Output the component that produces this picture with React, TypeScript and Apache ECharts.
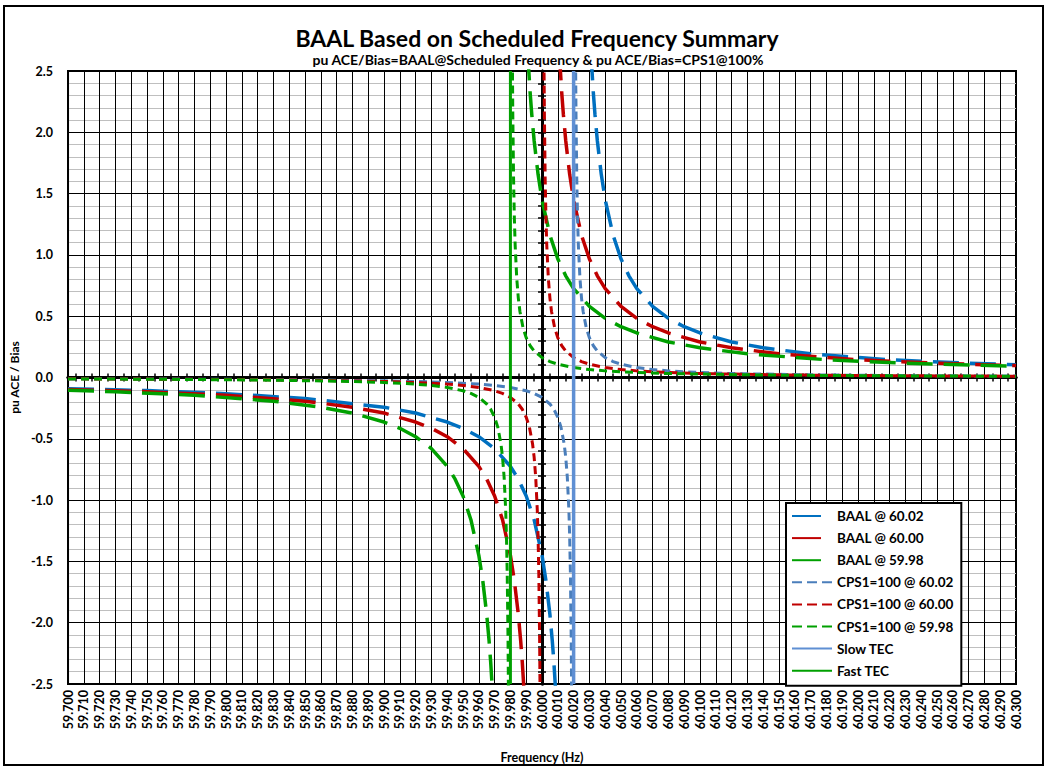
import React, { useEffect, useRef } from 'react';
import * as echarts from 'echarts';

const FONT = 'Lato, "Open Sans", sans-serif';

// Axis ranges
const xMin = 59.7;
const xMax = 60.3;
const yMin = -2.5;
const yMax = 2.5;

// Series names (legend order)
const seriesNames = [
  'BAAL @ 60.02',
  'BAAL @ 60.00',
  'BAAL @ 59.98',
  'CPS1=100 @ 60.02',
  'CPS1=100 @ 60.00',
  'CPS1=100 @ 59.98',
  'Slow TEC',
  'Fast TEC',
];

type Pt = [number, number | null];

// BAAL @ 60.02 (frequency Hz, pu ACE/Bias)
const baal6002: Pt[] = [
  [59.70, -0.091], [59.75, -0.107], [59.80, -0.132], [59.85, -0.171], [59.90, -0.242],
  [59.92, -0.29], [59.94, -0.363], [59.95, -0.414], [59.96, -0.483], [59.97, -0.58],
  [59.98, -0.725], [59.985, -0.829], [59.99, -0.967], [59.995, -1.16], [60.00, -1.45],
  [60.0025, -1.657], [60.005, -1.933], [60.0065, -2.148], [60.0075, -2.32], [60.009, -2.636],
  [60.02, null],
  [60.031, 2.636], [60.0325, 2.32], [60.0335, 2.148], [60.035, 1.933], [60.0375, 1.657],
  [60.04, 1.45], [60.045, 1.16], [60.05, 0.967], [60.055, 0.829], [60.06, 0.725],
  [60.07, 0.58], [60.08, 0.483], [60.09, 0.414], [60.10, 0.363], [60.12, 0.29],
  [60.14, 0.242], [60.17, 0.193], [60.22, 0.145], [60.27, 0.116], [60.30, 0.104],
];

// BAAL @ 60.00
const baal6000: Pt[] = [
  [59.70, -0.097], [59.75, -0.116], [59.80, -0.145], [59.85, -0.193], [59.88, -0.242],
  [59.90, -0.29], [59.92, -0.363], [59.93, -0.414], [59.94, -0.483], [59.95, -0.58],
  [59.96, -0.725], [59.965, -0.829], [59.97, -0.967], [59.975, -1.16], [59.98, -1.45],
  [59.9825, -1.657], [59.985, -1.933], [59.9865, -2.148], [59.9875, -2.32], [59.989, -2.636],
  [60.00, null],
  [60.011, 2.636], [60.0125, 2.32], [60.0135, 2.148], [60.015, 1.933], [60.0175, 1.657],
  [60.02, 1.45], [60.025, 1.16], [60.03, 0.967], [60.035, 0.829], [60.04, 0.725],
  [60.05, 0.58], [60.06, 0.483], [60.07, 0.414], [60.08, 0.363], [60.10, 0.29],
  [60.12, 0.242], [60.15, 0.193], [60.20, 0.145], [60.25, 0.116], [60.30, 0.097],
];

// BAAL @ 59.98
const baal5998: Pt[] = [
  [59.70, -0.104], [59.73, -0.116], [59.78, -0.145], [59.83, -0.193], [59.86, -0.242],
  [59.88, -0.29], [59.90, -0.363], [59.91, -0.414], [59.92, -0.483], [59.93, -0.58],
  [59.94, -0.725], [59.945, -0.829], [59.95, -0.967], [59.955, -1.16], [59.96, -1.45],
  [59.9625, -1.657], [59.965, -1.933], [59.9665, -2.148], [59.9675, -2.32], [59.969, -2.636],
  [59.98, null],
  [59.991, 2.636], [59.9925, 2.32], [59.9935, 2.148], [59.995, 1.933], [59.9975, 1.657],
  [60.00, 1.45], [60.005, 1.16], [60.01, 0.967], [60.015, 0.829], [60.02, 0.725],
  [60.03, 0.58], [60.04, 0.483], [60.05, 0.414], [60.06, 0.363], [60.08, 0.29],
  [60.10, 0.242], [60.13, 0.193], [60.18, 0.145], [60.23, 0.116], [60.30, 0.091],
];

// CPS1=100 @ 60.02
const cps6002: Pt[] = [
  [59.70, -0.0101], [59.75, -0.012], [59.80, -0.0147], [59.85, -0.0191], [59.90, -0.027],
  [59.92, -0.0324], [59.94, -0.0405], [59.96, -0.054], [59.97, -0.0648], [59.98, -0.081],
  [59.99, -0.108], [59.995, -0.13], [60.00, -0.162], [60.005, -0.216], [60.0075, -0.259],
  [60.01, -0.324], [60.012, -0.405], [60.014, -0.54], [60.015, -0.648], [60.016, -0.81],
  [60.017, -1.08], [60.0175, -1.296], [60.018, -1.62], [60.0185, -2.16], [60.0187, -2.492],
  [60.0188, -2.70],
  [60.02, null],
  [60.0212, 2.70], [60.0213, 2.492], [60.0215, 2.16], [60.022, 1.62], [60.0225, 1.296],
  [60.023, 1.08], [60.024, 0.81], [60.025, 0.648], [60.026, 0.54], [60.028, 0.405],
  [60.03, 0.324], [60.0325, 0.259], [60.035, 0.216], [60.04, 0.162], [60.045, 0.13],
  [60.05, 0.108], [60.06, 0.081], [60.07, 0.0648], [60.08, 0.054], [60.10, 0.0405],
  [60.12, 0.0324], [60.17, 0.0216], [60.22, 0.0162], [60.27, 0.013], [60.30, 0.0116],
];

// CPS1=100 @ 60.00
const cps6000: Pt[] = [
  [59.70, -0.0108], [59.75, -0.013], [59.80, -0.0162], [59.85, -0.0216], [59.90, -0.0324],
  [59.92, -0.0405], [59.94, -0.054], [59.95, -0.0648], [59.96, -0.081], [59.97, -0.108],
  [59.975, -0.13], [59.98, -0.162], [59.985, -0.216], [59.9875, -0.259], [59.99, -0.324],
  [59.992, -0.405], [59.994, -0.54], [59.995, -0.648], [59.996, -0.81], [59.997, -1.08],
  [59.9975, -1.296], [59.998, -1.62], [59.9985, -2.16], [59.9987, -2.492], [59.9988, -2.70],
  [60.00, null],
  [60.0012, 2.70], [60.0013, 2.492], [60.0015, 2.16], [60.002, 1.62], [60.0025, 1.296],
  [60.003, 1.08], [60.004, 0.81], [60.005, 0.648], [60.006, 0.54], [60.008, 0.405],
  [60.01, 0.324], [60.0125, 0.259], [60.015, 0.216], [60.02, 0.162], [60.025, 0.13],
  [60.03, 0.108], [60.04, 0.081], [60.05, 0.0648], [60.06, 0.054], [60.08, 0.0405],
  [60.10, 0.0324], [60.15, 0.0216], [60.20, 0.0162], [60.25, 0.013], [60.30, 0.0108],
];

// CPS1=100 @ 59.98
const cps5998: Pt[] = [
  [59.70, -0.0116], [59.73, -0.013], [59.78, -0.0162], [59.83, -0.0216], [59.88, -0.0324],
  [59.90, -0.0405], [59.92, -0.054], [59.93, -0.0648], [59.94, -0.081], [59.95, -0.108],
  [59.955, -0.13], [59.96, -0.162], [59.965, -0.216], [59.9675, -0.259], [59.97, -0.324],
  [59.972, -0.405], [59.974, -0.54], [59.975, -0.648], [59.976, -0.81], [59.977, -1.08],
  [59.9775, -1.296], [59.978, -1.62], [59.9785, -2.16], [59.9787, -2.492], [59.9788, -2.70],
  [59.98, null],
  [59.9812, 2.70], [59.9813, 2.492], [59.9815, 2.16], [59.982, 1.62], [59.9825, 1.296],
  [59.983, 1.08], [59.984, 0.81], [59.985, 0.648], [59.986, 0.54], [59.988, 0.405],
  [59.99, 0.324], [59.9925, 0.259], [59.995, 0.216], [60.00, 0.162], [60.005, 0.13],
  [60.01, 0.108], [60.02, 0.081], [60.03, 0.0648], [60.04, 0.054], [60.06, 0.0405],
  [60.08, 0.0324], [60.13, 0.0216], [60.18, 0.0162], [60.23, 0.013], [60.30, 0.0101],
];

// Vertical TEC lines (frequency, Hz)
const slowTecHz = 60.02;
const fastTecHz = 59.98;

// Styles (kept apart from data)
const seriesColors = ['#0070C0', '#C00000', '#00A000', '#4A7EBB', '#C00000', '#00A000', '#5F8FD3', '#00A000'];
const longDash = [26, 11];
const shortDash = [8, 5];

const GRID = { left: 68, top: 71, width: 948, height: 619 };

export default function App() {
  const ref = useRef<HTMLDivElement>(null);

  useEffect(() => {
    if (!ref.current) return;
    const chart = echarts.init(ref.current, undefined, { renderer: 'svg' });

    const tickCats = Array.from({ length: 60 }, (_, i) => String(i));
    const dataSets = [baal6002, baal6000, baal5998, cps6002, cps6000, cps5998,
      [[slowTecHz, yMin], [slowTecHz, yMax]] as Pt[],
      [[fastTecHz, yMin], [fastTecHz, yMax]] as Pt[]];
    const dashes: any[] = [longDash, longDash, longDash, shortDash, shortDash, shortDash, 'solid', 'solid'];
    const widths = [3.5, 3.5, 3.5, 3, 3, 3, 3.5, 3];

    const series = seriesNames.map((name, i) => ({
      name,
      type: 'line',
      data: dataSets[i],
      symbol: 'none',
      showSymbol: false,
      connectNulls: false,
      clip: true,
      smooth: false,
      color: seriesColors[i],
      lineStyle: { color: seriesColors[i], width: widths[i], type: dashes[i] },
      z: 3,
    }));

    const legendDash: any[] = [[29, 30], [29, 30], [29, 30], [10, 5], [10, 5], [10, 5], 'solid', 'solid'];

    const boldLabel = { fontFamily: FONT, fontWeight: 'bold' as const, color: '#000', fontSize: 12 };

    const centerAxisCommon = {
      axisLabel: { show: false },
      splitLine: { show: false },
      minorSplitLine: { show: false },
    };

    const option: any = {
      animation: false,
      textStyle: { fontFamily: FONT },
      grid: { ...GRID, show: true, borderColor: '#000', borderWidth: 2, backgroundColor: '#fff', containLabel: false },
      graphic: [
        { type: 'rect', shape: { x: 4, y: 6, width: 1039, height: 759 }, style: { fill: 'none', stroke: '#000', lineWidth: 2 }, z: -10, silent: true },
        { type: 'text', x: 537, y: 38, style: { text: 'BAAL Based on Scheduled Frequency Summary', font: `bold 23px ${FONT}`, fill: '#000', textAlign: 'center', textVerticalAlign: 'middle' } },
        { type: 'text', x: 538, y: 59, style: { text: 'pu ACE/Bias=BAAL@Scheduled Frequency & pu ACE/Bias=CPS1@100%', font: `bold 14px ${FONT}`, fill: '#000', textAlign: 'center', textVerticalAlign: 'middle' } },
      ],
      legend: {
        orient: 'vertical',
        left: 786,
        top: 503,
        padding: [6, 8, 8, 5],
        itemWidth: 40,
        itemHeight: 14,
        itemGap: 8.1,
        backgroundColor: '#fff',
        borderColor: '#000',
        borderWidth: 2,
        itemStyle: { opacity: 0 },
        textStyle: { fontFamily: FONT, fontWeight: 'bold', fontSize: 13.5, color: '#000' },
        data: seriesNames.map((n, i) => ({ name: n, lineStyle: { type: legendDash[i] } })),
      },
      xAxis: [
        {
          type: 'value', min: xMin, max: xMax, interval: 0.01, position: 'bottom',
          axisLine: { show: true, onZero: false, lineStyle: { color: '#000', width: 2 } },
          axisTick: { show: false },
          axisLabel: { ...boldLabel, fontSize: 12.5, rotate: 90, margin: 6, showMinLabel: true, showMaxLabel: true, formatter: (v: number) => v.toFixed(3) },
          splitLine: { show: true, lineStyle: { color: '#000', width: 1 } },
          name: 'Frequency (Hz)', nameLocation: 'middle', nameGap: 67,
          nameTextStyle: { ...boldLabel, fontSize: 12.5 },
        },
        {
          type: 'category', data: tickCats, boundaryGap: true, position: 'bottom',
          axisLine: { show: true, onZero: true, onZeroAxisIndex: 0, lineStyle: { color: '#000', width: 3 } },
          axisTick: { show: true, alignWithLabel: true, interval: 0, length: 4, lineStyle: { color: '#000', width: 1.5 } },
          ...centerAxisCommon,
          axisLabel: { show: false, interval: 0 },
        },
        {
          type: 'category', data: tickCats, boundaryGap: true, position: 'bottom',
          axisLine: { show: true, onZero: true, onZeroAxisIndex: 0, lineStyle: { color: '#000', width: 3 } },
          axisTick: { show: true, inside: true, alignWithLabel: true, interval: 0, length: 4, lineStyle: { color: '#000', width: 1.5 } },
          ...centerAxisCommon,
          axisLabel: { show: false, interval: 0 },
        },
      ],
      yAxis: [
        {
          type: 'value', min: yMin, max: yMax, interval: 0.5,
          axisLine: { show: true, onZero: false, lineStyle: { color: '#000', width: 2 } },
          axisTick: { show: false },
          axisLabel: { ...boldLabel, fontSize: 12.5, margin: 15, formatter: (v: number) => v.toFixed(1) },
          splitLine: { show: true, lineStyle: { color: '#000', width: 1 } },
          minorTick: { show: false, splitNumber: 5 },
          minorSplitLine: { show: true, lineStyle: { color: '#BFBFBF', width: 1 } },
          name: 'pu ACE / Bias', nameLocation: 'middle', nameGap: 47, nameRotate: 90,
          nameTextStyle: { ...boldLabel },
        },
        {
          type: 'value', min: yMin, max: yMax, interval: 0.1, position: 'left', offset: -GRID.width / 2,
          axisLine: { show: true, onZero: false, lineStyle: { color: '#000', width: 3 } },
          axisTick: { show: true, length: 4, lineStyle: { color: '#000', width: 1.5 } },
          ...centerAxisCommon,
        },
        {
          type: 'value', min: yMin, max: yMax, interval: 0.1, position: 'left', offset: -GRID.width / 2,
          axisLine: { show: true, onZero: false, lineStyle: { color: '#000', width: 3 } },
          axisTick: { show: true, inside: true, length: 4, lineStyle: { color: '#000', width: 1.5 } },
          ...centerAxisCommon,
        },
      ],
      series,
    };

    chart.setOption(option);
    return () => chart.dispose();
  }, []);

  return (
    <div
      ref={ref}
      style={{ position: 'fixed', left: 0, top: 0, width: 1049, height: 769, background: '#fff' }}
    />
  );
}
